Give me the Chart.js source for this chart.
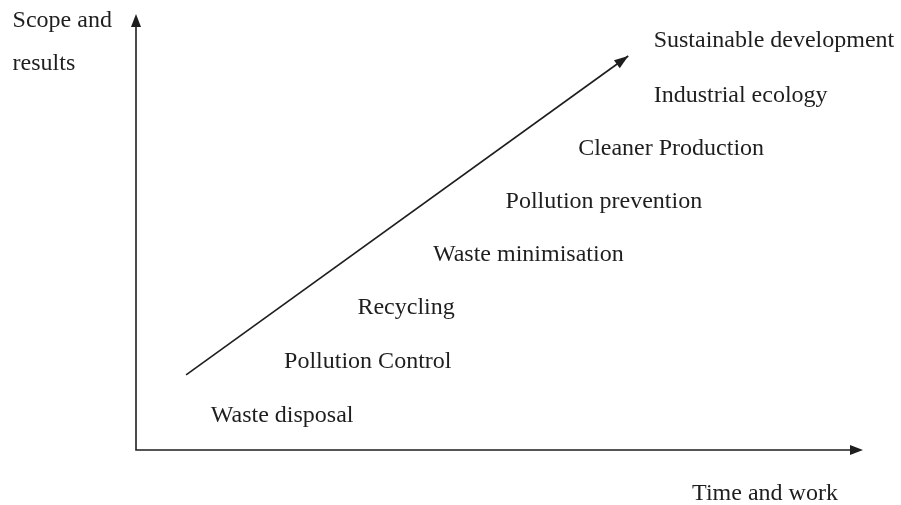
<!DOCTYPE html>
<html>
<head>
<meta charset="utf-8">
<script src="https://cdn.jsdelivr.net/npm/chart.js@4/dist/chart.umd.min.js"></script>
<style>
  html, body { margin: 0; padding: 0; background: #fff; }
  #wrap { width: 901px; height: 505px; }
</style>
</head>
<body>
<div id="wrap"><canvas id="chart"></canvas></div>
<script>
// stages along the trend, left edge / middle of each label in axis units (0..100)
const stageNames = ['Waste disposal', 'Pollution Control', 'Recycling', 'Waste minimisation',
  'Pollution prevention', 'Cleaner Production', 'Industrial ecology', 'Sustainable development'];
const stageX = [10.3, 20.4, 30.5, 40.9, 50.9, 60.9, 71.3, 71.3];
const stageY = [8.0, 20.5, 33.0, 45.1, 57.4, 69.8, 82.1, 94.7];

// the rising arrow
const trendX = [6.9, 67.8];
const trendY = [17.4, 91.2];

// axis titles
const yTitle = ['Scope and', 'results'];
const yTitleX = [-17, -17];
const yTitleY = [99.3, 89.5];
const xTitle = ['Time and work'];
const xTitleX = [76.6];
const xTitleY = [-10.2];

const INK = '#1e1e1e';
const FONT = '24px "Liberation Serif", "Times New Roman", serif';

function arrowHead(ctx, x, y, angle, len, half) {
  ctx.save();
  ctx.translate(x, y);
  ctx.rotate(angle);
  ctx.beginPath();
  ctx.moveTo(0, 0);
  ctx.lineTo(-len, -half);
  ctx.lineTo(-len, half);
  ctx.closePath();
  ctx.fill();
  ctx.restore();
}

const diagramPlugin = {
  id: 'diagram',
  beforeDatasetsDraw(chart) {
    const { ctx, chartArea } = chart;
    ctx.save();
    ctx.strokeStyle = INK;
    ctx.fillStyle = INK;
    ctx.lineWidth = 1.6;
    // axes
    ctx.beginPath();
    ctx.moveTo(chartArea.left, chartArea.top + 8);
    ctx.lineTo(chartArea.left, chartArea.bottom);
    ctx.lineTo(chartArea.right - 8, chartArea.bottom);
    ctx.stroke();
    arrowHead(ctx, chartArea.left, chartArea.top - 4, -Math.PI / 2, 13, 5);
    arrowHead(ctx, chartArea.right + 1, chartArea.bottom, 0, 13, 5);
    ctx.restore();
  },
  afterDatasetsDraw(chart) {
    const { ctx, scales } = chart;
    const x = scales.x, y = scales.y;
    ctx.save();
    ctx.fillStyle = INK;
    // arrowhead on the trend line
    const x0 = x.getPixelForValue(trendX[0]), y0 = y.getPixelForValue(trendY[0]);
    const x1 = x.getPixelForValue(trendX[1]), y1 = y.getPixelForValue(trendY[1]);
    arrowHead(ctx, x1, y1, Math.atan2(y1 - y0, x1 - x0), 14, 5);

    ctx.font = FONT;
    ctx.textAlign = 'left';
    ctx.textBaseline = 'middle';
    stageNames.forEach((name, i) => {
      ctx.fillText(name, x.getPixelForValue(stageX[i]), y.getPixelForValue(stageY[i]));
    });
    yTitle.forEach((t, i) => {
      ctx.fillText(t, x.getPixelForValue(yTitleX[i]), y.getPixelForValue(yTitleY[i]));
    });
    xTitle.forEach((t, i) => {
      ctx.fillText(t, x.getPixelForValue(xTitleX[i]), y.getPixelForValue(xTitleY[i]));
    });
    ctx.restore();
  }
};

new Chart(document.getElementById('chart'), {
  type: 'line',
  data: {
    datasets: [{
      data: trendX.map((v, i) => ({ x: v, y: trendY[i] })),
      borderColor: INK,
      borderWidth: 1.6,
      pointRadius: 0,
      fill: false,
      tension: 0
    }]
  },
  options: {
    responsive: true,
    maintainAspectRatio: false,
    animation: false,
    layout: { padding: { left: 136, right: 39, top: 18, bottom: 55 } },
    scales: {
      x: { type: 'linear', min: 0, max: 100, display: false },
      y: { type: 'linear', min: 0, max: 100, display: false }
    },
    plugins: {
      legend: { display: false },
      tooltip: { enabled: false }
    }
  },
  plugins: [diagramPlugin]
});
</script>
</body>
</html>
